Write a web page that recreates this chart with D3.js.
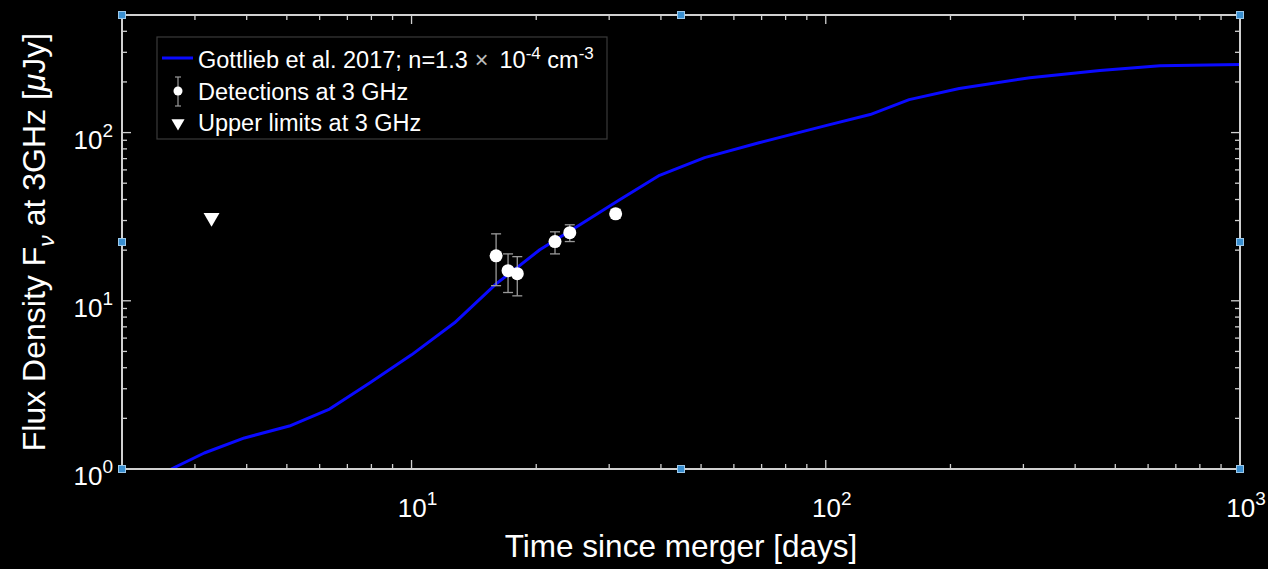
<!DOCTYPE html>
<html>
<head>
<meta charset="utf-8">
<script src="https://cdn.jsdelivr.net/npm/d3@7"></script>
<style>
  html, body { margin: 0; padding: 0; background: #000; }
  svg { display: block; }
  text { font-family: "Liberation Sans", Arial, sans-serif; fill: #fff; }
</style>
</head>
<body>
<svg id="chart" width="1268" height="569"></svg>
<script>
// Afterglow model (Gottlieb et al. 2017), time in days, flux in µJy
const modelDays = [2.63, 3.16, 3.95, 5.07, 6.34, 7.92, 10, 12.7, 16.0, 20.4, 25.5, 31.8, 39.7, 51, 69, 100, 128, 159, 210, 311, 459, 641, 1000];
const modelFlux = [1.0, 1.245, 1.53, 1.80, 2.27, 3.25, 4.77, 7.4, 12.6, 20.1, 28.3, 39.9, 55.7, 71, 87, 110, 128, 157, 183, 212, 234, 250, 254];

// 3 GHz detections
const detDays = [16.0, 17.1, 18.0, 22.2, 24.1, 31.1];
const detFlux = [18.5, 15.1, 14.5, 22.5, 25.4, 32.9];
const detHigh = [25.0, 19.0, 18.3, 25.7, 28.3, 35.0];
const detLow  = [12.3, 11.2, 10.7, 19.0, 22.5, 30.9];

// 3 GHz upper limits
const limDays = [3.29];
const limFlux = [31.2];

const xTickVals = [10, 100, 1000];
const xTickExp = ["1", "2", "3"];
const yTickVals = [1, 10, 100];
const yTickExp = ["0", "1", "2"];

const svg = d3.select("#chart");
const L = 122, R = 1240, T = 15, B = 469;
const axisColor = "#d0d0d0";

const x = d3.scaleLog().domain([2, 1000]).range([L, R]);
const y = d3.scaleLog().domain([1, 500]).range([B, T]);

const plot = svg.append("g");
plot.append("clipPath").attr("id", "clip")
  .append("rect").attr("x", L).attr("y", T).attr("width", R - L).attr("height", B - T);

// minor + major ticks, drawn inward on all four sides
function logTicks(domain) {
  const out = [];
  for (let e = -1; e <= 4; e++) {
    for (let m = 1; m <= 9; m++) {
      const v = m * Math.pow(10, e);
      if (v >= domain[0] - 1e-9 && v <= domain[1] + 1e-9) out.push({ v, major: m === 1 });
    }
  }
  return out;
}
const tg = svg.append("g").attr("stroke", axisColor).attr("stroke-width", 1.3);
logTicks(x.domain()).forEach(t => {
  const px = x(t.v), len = t.major ? 9 : 5;
  tg.append("line").attr("x1", px).attr("x2", px).attr("y1", B).attr("y2", B - len);
  tg.append("line").attr("x1", px).attr("x2", px).attr("y1", T).attr("y2", T + len);
});
logTicks(y.domain()).forEach(t => {
  const py = y(t.v), len = t.major ? 9 : 5;
  tg.append("line").attr("y1", py).attr("y2", py).attr("x1", L).attr("x2", L + len);
  tg.append("line").attr("y1", py).attr("y2", py).attr("x1", R).attr("x2", R - len);
});

// box
svg.append("rect").attr("x", L).attr("y", T).attr("width", R - L).attr("height", B - T)
  .attr("fill", "none").attr("stroke", axisColor).attr("stroke-width", 2);

// tick labels
xTickVals.forEach((v, i) => {
  const t = svg.append("text").attr("x", x(v) + 6).attr("y", 517)
    .attr("text-anchor", "middle").attr("font-size", 26);
  t.append("tspan").text("10");
  t.append("tspan").attr("dy", -12).attr("font-size", 19).text(xTickExp[i]);
});
yTickVals.forEach((v, i) => {
  const t = svg.append("text").attr("x", 113).attr("y", y(v) + 16)
    .attr("text-anchor", "end").attr("font-size", 26);
  t.append("tspan").text("10");
  t.append("tspan").attr("dy", -12).attr("font-size", 19).text(yTickExp[i]);
});

// axis titles
svg.append("text").attr("x", (L + R) / 2).attr("y", 557)
  .attr("text-anchor", "middle").attr("font-size", 31.5).text("Time since merger [days]");
const yl = svg.append("text").attr("transform", `translate(45,${(T + B) / 2}) rotate(-90)`)
  .attr("text-anchor", "middle").attr("font-size", 32);
yl.append("tspan").text("Flux Density F");
yl.append("tspan").attr("dy", 9).attr("font-size", 23).attr("font-style", "italic").text("\u03bd");
yl.append("tspan").attr("dy", -9).text("  at 3GHz [");
yl.append("tspan").attr("font-style", "italic").text("\u03bc");
yl.append("tspan").text("Jy]");

// model curve
const curve = modelDays.map((d, i) => [d, modelFlux[i]]);
plot.append("path").datum(curve)
  .attr("clip-path", "url(#clip)")
  .attr("fill", "none").attr("stroke", "#0a0aff").attr("stroke-width", 3)
  .attr("stroke-linejoin", "round")
  .attr("d", d3.line().x(d => x(d[0])).y(d => y(d[1])));

// detections with error bars
const det = detDays.map((d, i) => ({ d, f: detFlux[i], hi: detHigh[i], lo: detLow[i] }));
const eg = plot.append("g").attr("stroke", "#9a9a9a").attr("stroke-width", 1.3);
det.forEach(p => {
  const px = x(p.d);
  eg.append("line").attr("x1", px).attr("x2", px).attr("y1", y(p.hi)).attr("y2", y(p.lo));
  eg.append("line").attr("x1", px - 5).attr("x2", px + 5).attr("y1", y(p.hi)).attr("y2", y(p.hi));
  eg.append("line").attr("x1", px - 5).attr("x2", px + 5).attr("y1", y(p.lo)).attr("y2", y(p.lo));
});
plot.selectAll("circle.det").data(det).enter().append("circle")
  .attr("cx", p => x(p.d)).attr("cy", p => y(p.f)).attr("r", 6.5).attr("fill", "#fff");

// upper limits
const tri = d3.symbol().type(d3.symbolTriangle).size(110);
limDays.forEach((d, i) => {
  plot.append("path").attr("d", tri)
    .attr("transform", `translate(${x(d)},${y(limFlux[i])}) rotate(180)`)
    .attr("fill", "#fff");
});

// legend
const lg = svg.append("g");
lg.append("rect").attr("x", 157).attr("y", 37).attr("width", 450).attr("height", 102)
  .attr("fill", "#000").attr("stroke", "#3a3a3a").attr("stroke-width", 1.2);
lg.append("line").attr("x1", 162).attr("x2", 193).attr("y1", 58).attr("y2", 58)
  .attr("stroke", "#0a0aff").attr("stroke-width", 3);
const lt1 = lg.append("text").attr("x", 198).attr("y", 68).attr("font-size", 23.5);
lt1.append("tspan").text("Gottlieb et al. 2017; n=1.3");
lt1.append("tspan").attr("dx", 7).attr("fill", "#bbb").text("\u00d7");
lt1.append("tspan").attr("dx", 11).text("10");
lt1.append("tspan").attr("dy", -9).attr("font-size", 17).text("-4");
lt1.append("tspan").attr("dy", 9).text(" cm");
lt1.append("tspan").attr("dy", -9).attr("font-size", 17).text("-3");
lg.append("line").attr("x1", 178).attr("x2", 178).attr("y1", 77).attr("y2", 106)
  .attr("stroke", "#9a9a9a").attr("stroke-width", 1.2);
lg.append("line").attr("x1", 175).attr("x2", 181).attr("y1", 77).attr("y2", 77)
  .attr("stroke", "#9a9a9a").attr("stroke-width", 1.2);
lg.append("line").attr("x1", 175).attr("x2", 181).attr("y1", 106).attr("y2", 106)
  .attr("stroke", "#9a9a9a").attr("stroke-width", 1.2);
lg.append("circle").attr("cx", 178).attr("cy", 91).attr("r", 4.5).attr("fill", "#fff");
lg.append("text").attr("x", 198).attr("y", 100).attr("font-size", 23.5).text("Detections at 3 GHz");
lg.append("path").attr("d", d3.symbol().type(d3.symbolTriangle).size(75))
  .attr("transform", "translate(178,123) rotate(180)").attr("fill", "#fff");
lg.append("text").attr("x", 198).attr("y", 131).attr("font-size", 23.5).text("Upper limits at 3 GHz");

// selection handles around the axes box
const hx = [L, (L + R) / 2, R], hy = [T, (T + B) / 2, B];
hx.forEach(a => hy.forEach(b => {
  if (a === (L + R) / 2 && b === (T + B) / 2) return;
  svg.append("rect").attr("x", a - 3.5).attr("y", b - 3.5).attr("width", 7).attr("height", 7)
    .attr("fill", "#3a8fd0").attr("stroke", "#9cc8ea").attr("stroke-width", 1);
}));
</script>
</body>
</html>
